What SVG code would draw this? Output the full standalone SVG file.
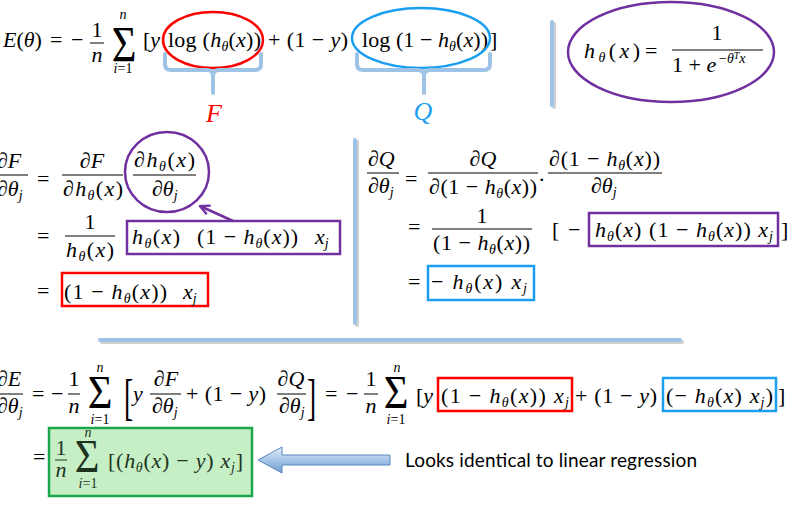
<svg xmlns="http://www.w3.org/2000/svg" width="794" height="511" viewBox="0 0 794 511">
<defs>
<style>
.m{font-family:'Liberation Serif','DejaVu Serif',serif;font-size:22px;fill:#000}
.i{font-style:italic}
.s{font-size:14px}
.c{text-anchor:middle}
.sig{font-family:'Liberation Serif','DejaVu Serif',serif;font-size:50px;text-anchor:middle;fill:#000}
.bar{stroke:#000;stroke-width:1}
.lb{stroke:#9dc3e6;stroke-width:4;fill:none;stroke-linecap:round;stroke-linejoin:round}
.sh{stroke:#d0d0d0;stroke-width:4;fill:none;stroke-linecap:round}
.red{stroke:#ff0000;stroke-width:2.5;fill:none}
.blu{stroke:#1a9ff0;stroke-width:2.5;fill:none}
.pur{stroke:#7030a0;stroke-width:2.5;fill:none}
.lbl{font-family:'Liberation Serif','DejaVu Serif',serif;font-size:26px;font-style:italic;text-anchor:middle}
.g{fill:#1e331e}
</style>
<marker id="pa" viewBox="0 0 10 10" refX="9" refY="5" markerWidth="12" markerHeight="12" markerUnits="userSpaceOnUse" orient="auto">
<path d="M1,1 L9,5 L1,9" fill="none" stroke="#7030a0" stroke-width="2"/>
</marker>
<linearGradient id="ag" x1="0" y1="0" x2="0" y2="1">
<stop offset="0" stop-color="#e3eef9"/>
<stop offset="0.5" stop-color="#a8c6e8"/>
<stop offset="1" stop-color="#6e9ad0"/>
</linearGradient>
</defs>
<rect width="794" height="511" fill="#fff"/>

<g id="dividers">
<line class="sh" x1="554" y1="24" x2="554" y2="107"/>
<line class="lb" x1="552" y1="22" x2="552" y2="105"/>
<line class="sh" x1="357" y1="142" x2="357" y2="325"/>
<line class="lb" x1="355" y1="140" x2="355" y2="323"/>
<line class="sh" x1="102" y1="342" x2="682" y2="342"/>
<line class="lb" x1="100" y1="340" x2="680" y2="340"/>
</g>

<g id="cost">
<text class="m" x="3" y="47"><tspan class="i">E</tspan>(<tspan class="i">θ</tspan>)</text>
<text class="m" x="50" y="47">=</text>
<text class="m" x="71" y="47">−</text>
<text class="m c" x="97" y="37">1</text>
<line class="bar" x1="90" y1="43" x2="104" y2="43"/>
<text class="m c i" x="97" y="62">n</text>
<text class="sig" transform="translate(124,61) scale(0.85,1)">Σ</text>
<text class="m s c i" x="123" y="19">n</text>
<text class="m s c" x="123" y="73"><tspan class="i">i</tspan>=1</text>
<text class="m" x="143" y="47">[<tspan class="i">y</tspan></text>
<text class="m" x="168" y="47" textLength="93">log (<tspan class="i">h</tspan><tspan class="s i" dy="4">θ</tspan><tspan dy="-4">(</tspan><tspan class="i">x</tspan>))</text>
<text class="m" x="268" y="47" textLength="80">+ (1 − <tspan class="i">y</tspan>)</text>
<text class="m" x="362" y="47" textLength="126">log (1 − <tspan class="i">h</tspan><tspan class="s i" dy="4">θ</tspan><tspan dy="-4">(</tspan><tspan class="i">x</tspan>))</text>
<text class="m" x="490" y="47">]</text>
</g>

<g id="term-F">
<ellipse class="red" cx="213" cy="40" rx="50" ry="28"/>
<path class="lb" d="M165,54 L165,64 Q165,70 171,70 L207,70 Q213,70 213,76 L213,93 M213,76 Q213,70 219,70 L255,70 Q261,70 261,64 L261,54"/>
<text class="lbl" x="214" y="122" fill="#ff0000">F</text>
</g>

<g id="term-Q">
<ellipse class="blu" cx="421" cy="38" rx="69" ry="30"/>
<path class="lb" d="M357,54 L357,64 Q357,70 363,70 L418,70 Q424,70 424,76 L424,93 M424,76 Q424,70 430,70 L484,70 Q490,70 490,64 L490,54"/>
<text class="lbl" x="423" y="120" fill="#1a9ff0">Q</text>
</g>

<g id="sigmoid">
<ellipse class="pur" cx="671" cy="52" rx="103" ry="50"/>
<text class="m" x="584" y="58" textLength="56"><tspan class="i">h</tspan><tspan class="s i" dy="4">θ</tspan><tspan dy="-4">(</tspan><tspan class="i">x</tspan>)</text>
<text class="m" x="645" y="58">=</text>
<text class="m c" x="717" y="40">1</text>
<line class="bar" x1="672" y1="50" x2="763" y2="50"/>
<text class="m" x="672" y="72">1 + <tspan class="i">e</tspan></text>
<text class="m s" x="719" y="63">−<tspan class="i">θ</tspan><tspan class="i" style="font-size:10px" dy="-4">T</tspan><tspan class="i" dy="4">x</tspan></text>
</g>

<g id="dF">
<text class="m i" x="-3" y="168">∂F</text>
<line class="bar" x1="-2" y1="175" x2="28" y2="175"/>
<text class="m" x="-3" y="196"><tspan class="i">∂θ</tspan><tspan class="s i" dy="4">j</tspan></text>
<text class="m" x="37" y="186">=</text>
<text class="m c i" x="92" y="168">∂F</text>
<line class="bar" x1="62" y1="175" x2="123" y2="175"/>
<text class="m" x="63" y="196" textLength="60"><tspan class="i">∂h</tspan><tspan class="s i" dy="4">θ</tspan><tspan dy="-4">(</tspan><tspan class="i">x</tspan>)</text>
<ellipse class="pur" cx="167" cy="172" rx="42" ry="40"/>
<text class="m" x="134" y="167" textLength="61"><tspan class="i">∂h</tspan><tspan class="s i" dy="4">θ</tspan><tspan dy="-4">(</tspan><tspan class="i">x</tspan>)</text>
<line class="bar" x1="133" y1="175" x2="196" y2="175"/>
<text class="m" x="152" y="196"><tspan class="i">∂θ</tspan><tspan class="s i" dy="4">j</tspan></text>
<line x1="233" y1="221" x2="200" y2="206" stroke="#7030a0" stroke-width="2.5" marker-end="url(#pa)"/>

<text class="m" x="37" y="243">=</text>
<text class="m c" x="90" y="229">1</text>
<line class="bar" x1="65" y1="236" x2="115" y2="236"/>
<text class="m" x="66" y="257" textLength="48"><tspan class="i">h</tspan><tspan class="s i" dy="4">θ</tspan><tspan dy="-4">(</tspan><tspan class="i">x</tspan>)</text>
<rect class="pur" x="127" y="221" width="213" height="33"/>
<text class="m" x="132" y="244" textLength="48"><tspan class="i">h</tspan><tspan class="s i" dy="4">θ</tspan><tspan dy="-4">(</tspan><tspan class="i">x</tspan>)</text>
<text class="m" x="197" y="244" textLength="101">(1 − <tspan class="i">h</tspan><tspan class="s i" dy="4">θ</tspan><tspan dy="-4">(</tspan><tspan class="i">x</tspan>))</text>
<text class="m" x="315" y="244"><tspan class="i">x</tspan><tspan class="s i" dy="4">j</tspan></text>

<text class="m" x="37" y="298">=</text>
<rect class="red" x="62" y="273" width="146" height="33"/>
<text class="m" x="64" y="299" textLength="103">(1 − <tspan class="i">h</tspan><tspan class="s i" dy="4">θ</tspan><tspan dy="-4">(</tspan><tspan class="i">x</tspan>))</text>
<text class="m" x="183" y="299"><tspan class="i">x</tspan><tspan class="s i" dy="4">j</tspan></text>
</g>

<g id="dQ">
<text class="m i" x="368" y="166">∂Q</text>
<line class="bar" x1="367" y1="173" x2="399" y2="173"/>
<text class="m" x="368" y="193"><tspan class="i">∂θ</tspan><tspan class="s i" dy="4">j</tspan></text>
<text class="m" x="405" y="186">=</text>
<text class="m c i" x="483" y="166">∂Q</text>
<line class="bar" x1="428" y1="173" x2="538" y2="173"/>
<text class="m" x="429" y="194" textLength="108"><tspan class="i">∂</tspan>(1 − <tspan class="i">h</tspan><tspan class="s i" dy="4">θ</tspan><tspan dy="-4">(</tspan><tspan class="i">x</tspan>))</text>
<text class="m" x="539" y="181">.</text>
<text class="m" x="549" y="166" textLength="111"><tspan class="i">∂</tspan>(1 − <tspan class="i">h</tspan><tspan class="s i" dy="4">θ</tspan><tspan dy="-4">(</tspan><tspan class="i">x</tspan>))</text>
<line class="bar" x1="548" y1="173" x2="662" y2="173"/>
<text class="m" x="591" y="193"><tspan class="i">∂θ</tspan><tspan class="s i" dy="4">j</tspan></text>

<text class="m" x="408" y="234">=</text>
<text class="m c" x="482" y="223">1</text>
<line class="bar" x1="432" y1="229" x2="532" y2="229"/>
<text class="m" x="433" y="250" textLength="97">(1 − <tspan class="i">h</tspan><tspan class="s i" dy="4">θ</tspan><tspan dy="-4">(</tspan><tspan class="i">x</tspan>))</text>
<text class="m" x="552" y="237">[</text>
<text class="m" x="568" y="237">−</text>
<rect class="pur" x="589" y="213" width="189" height="33"/>
<text class="m" x="595" y="237" textLength="178"><tspan class="i">h</tspan><tspan class="s i" dy="4">θ</tspan><tspan dy="-4">(</tspan><tspan class="i">x</tspan>) (1 − <tspan class="i">h</tspan><tspan class="s i" dy="4">θ</tspan><tspan dy="-4">(</tspan><tspan class="i">x</tspan>)) <tspan class="i">x</tspan><tspan class="s i" dy="4">j</tspan></text>
<text class="m" x="781" y="237">]</text>

<text class="m" x="408" y="289">=</text>
<rect class="blu" x="428" y="266" width="106" height="34"/>
<text class="m" x="431" y="289" textLength="96">− <tspan class="i">h</tspan><tspan class="s i" dy="4">θ</tspan><tspan dy="-4">(</tspan><tspan class="i">x</tspan>) <tspan class="i">x</tspan><tspan class="s i" dy="4">j</tspan></text>
</g>

<g id="dE">
<text class="m i" x="-3" y="386">∂E</text>
<line class="bar" x1="-2" y1="394" x2="23" y2="394"/>
<text class="m" x="-3" y="413"><tspan class="i">∂θ</tspan><tspan class="s i" dy="4">j</tspan></text>
<text class="m" x="32" y="401">=</text>
<text class="m" x="51" y="401">−</text>
<text class="m c" x="74" y="386">1</text>
<line class="bar" x1="68" y1="394" x2="80" y2="394"/>
<text class="m c i" x="74" y="413">n</text>
<text class="sig" transform="translate(100,408) scale(0.85,0.95)">Σ</text>
<text class="m s c i" x="100" y="372">n</text>
<text class="m s c" x="100" y="424"><tspan class="i">i</tspan>=1</text>
<text class="m" transform="translate(124,414) scale(0.55,1)" style="font-size:50px">[</text>
<text class="m i" x="133" y="401">y</text>
<text class="m c i" x="166" y="386">∂F</text>
<line class="bar" x1="150" y1="394" x2="181" y2="394"/>
<text class="m" x="152" y="413"><tspan class="i">∂θ</tspan><tspan class="s i" dy="4">j</tspan></text>
<text class="m" x="186" y="401" textLength="80">+ (1 − <tspan class="i">y</tspan>)</text>
<text class="m c i" x="291" y="386">∂Q</text>
<line class="bar" x1="277" y1="394" x2="306" y2="394"/>
<text class="m" x="279" y="413"><tspan class="i">∂θ</tspan><tspan class="s i" dy="4">j</tspan></text>
<text class="m" transform="translate(307,414) scale(0.55,1)" style="font-size:50px">]</text>
<text class="m" x="325" y="401">=</text>
<text class="m" x="346" y="401">−</text>
<text class="m c" x="371" y="386">1</text>
<line class="bar" x1="364" y1="394" x2="378" y2="394"/>
<text class="m c i" x="371" y="413">n</text>
<text class="sig" transform="translate(396,408) scale(0.85,0.95)">Σ</text>
<text class="m s c i" x="397" y="372">n</text>
<text class="m s c" x="396" y="424"><tspan class="i">i</tspan>=1</text>
<text class="m" x="416" y="403">[<tspan class="i">y</tspan></text>
<rect class="red" x="438" y="378" width="134" height="33"/>
<text class="m" x="441" y="403" textLength="128">(1 −  <tspan class="i">h</tspan><tspan class="s i" dy="4">θ</tspan><tspan dy="-4">(</tspan><tspan class="i">x</tspan>)) <tspan class="i">x</tspan><tspan class="s i" dy="4">j</tspan></text>
<text class="m" x="575" y="403" textLength="82">+ (1 − <tspan class="i">y</tspan>)</text>
<rect class="blu" x="663" y="378" width="113" height="33"/>
<text class="m" x="666" y="403" textLength="107">(− <tspan class="i">h</tspan><tspan class="s i" dy="4">θ</tspan><tspan dy="-4">(</tspan><tspan class="i">x</tspan>) <tspan class="i">x</tspan><tspan class="s i" dy="4">j</tspan><tspan dy="-4">)</tspan></text>
<text class="m" x="778" y="403">]</text>
</g>

<g id="result">
<text class="m" x="33" y="464">=</text>
<rect x="49" y="428" width="203" height="68" fill="#c6efc6" stroke="#1aa64a" stroke-width="2.5"/>
<text class="m c g" x="61" y="455">1</text>
<line x1="55" y1="460" x2="67" y2="460" stroke="#1e331e" stroke-width="1"/>
<text class="m c i g" x="61" y="477">n</text>
<text class="sig g" transform="translate(87,472) scale(0.85,0.95)">Σ</text>
<text class="m s c i g" x="88" y="437">n</text>
<text class="m s c g" x="88" y="488"><tspan class="i">i</tspan>=1</text>
<text class="m g" x="108" y="468" textLength="135">[(<tspan class="i">h</tspan><tspan class="s i" dy="4">θ</tspan><tspan dy="-4">(</tspan><tspan class="i">x</tspan>) − <tspan class="i">y</tspan>) <tspan class="i">x</tspan><tspan class="s i" dy="4">j</tspan><tspan dy="-4">]</tspan></text>
</g>

<g id="note">
<polygon points="258,460 282,447 282,455 390,455 390,465 282,465 282,473" fill="url(#ag)" stroke="#5b87bf" stroke-width="1"/>
<text x="405" y="467" font-family="Lato, 'Open Sans', 'Liberation Sans', sans-serif" font-size="19" textLength="292" fill="#000">Looks identical to linear regression</text>
</g>
</svg>
